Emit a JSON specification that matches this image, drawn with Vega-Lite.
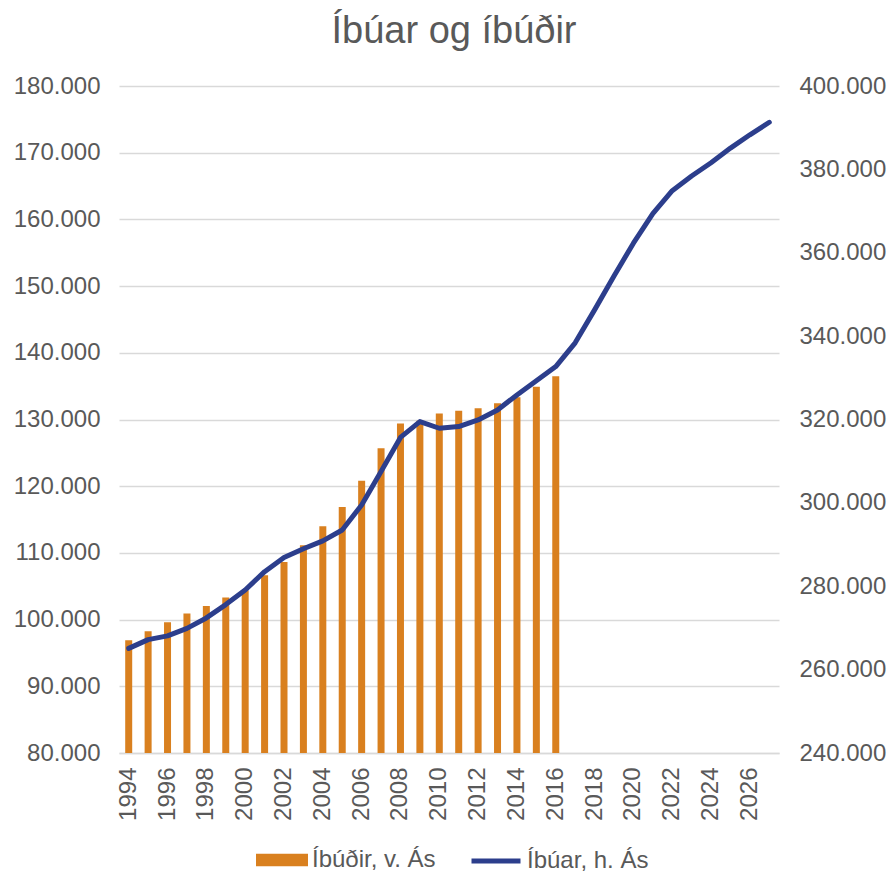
{
  "$schema": "https://vega.github.io/schema/vega-lite/v6.json",
  "autosize": {"type": "none"},
  "width": 660,
  "height": 667,
  "padding": {"left": 119, "top": 86, "right": 110, "bottom": 120},
  "background": "white",
  "title": {"text": "Íbúar og íbúðir", "fontSize": 38, "font": "Liberation Sans", "fontWeight": "normal", "color": "#595959", "anchor": "middle", "frame": "group", "baseline": "alphabetic", "offset": 41, "dx": 5, "dy": 48},
  "config": {"view": {"stroke": null}, "font": "Liberation Sans"},
  "data": {"values": [
    {"year": 1994, "ibudir": 96900, "ibuar": 265100},
    {"year": 1995, "ibudir": 98250, "ibuar": 267200},
    {"year": 1996, "ibudir": 99600, "ibuar": 268100},
    {"year": 1997, "ibudir": 100900, "ibuar": 269900},
    {"year": 1998, "ibudir": 102050, "ibuar": 272400},
    {"year": 1999, "ibudir": 103300, "ibuar": 275600},
    {"year": 2000, "ibudir": 104400, "ibuar": 279100},
    {"year": 2001, "ibudir": 106650, "ibuar": 283500},
    {"year": 2002, "ibudir": 108650, "ibuar": 286900},
    {"year": 2003, "ibudir": 111150, "ibuar": 289000},
    {"year": 2004, "ibudir": 114000, "ibuar": 290900},
    {"year": 2005, "ibudir": 116900, "ibuar": 293500},
    {"year": 2006, "ibudir": 120800, "ibuar": 299500},
    {"year": 2007, "ibudir": 125700, "ibuar": 307500},
    {"year": 2008, "ibudir": 129400, "ibuar": 315700},
    {"year": 2009, "ibudir": 129800, "ibuar": 319500},
    {"year": 2010, "ibudir": 130900, "ibuar": 317900},
    {"year": 2011, "ibudir": 131300, "ibuar": 318300},
    {"year": 2012, "ibudir": 131700, "ibuar": 319900},
    {"year": 2013, "ibudir": 132450, "ibuar": 322300},
    {"year": 2014, "ibudir": 133350, "ibuar": 325900},
    {"year": 2015, "ibudir": 134900, "ibuar": 329300},
    {"year": 2016, "ibudir": 136500, "ibuar": 332700},
    {"year": 2017, "ibudir": null, "ibuar": 338400},
    {"year": 2018, "ibudir": null, "ibuar": 346300},
    {"year": 2019, "ibudir": null, "ibuar": 354400},
    {"year": 2020, "ibudir": null, "ibuar": 362300},
    {"year": 2021, "ibudir": null, "ibuar": 369400},
    {"year": 2022, "ibudir": null, "ibuar": 374900},
    {"year": 2023, "ibudir": null, "ibuar": 378400},
    {"year": 2024, "ibudir": null, "ibuar": 381600},
    {"year": 2025, "ibudir": null, "ibuar": 385100},
    {"year": 2026, "ibudir": null, "ibuar": 388300},
    {"year": 2027, "ibudir": null, "ibuar": 391300}
  ]},
  "encoding": {
    "x": {
      "field": "year",
      "type": "ordinal",
      "scale": {"paddingInner": 0, "paddingOuter": 0},
      "axis": {
        "title": null,
        "labelAngle": -90,
        "labelFontSize": 24,
        "labelColor": "#595959",
        "labelFont": "Liberation Sans",
        "ticks": false,
        "domain": true,
        "domainColor": "#D9D9D9",
        "domainWidth": 1.5,
        "labelPadding": 14,
        "grid": false,
        "values": [1994, 1996, 1998, 2000, 2002, 2004, 2006, 2008, 2010, 2012, 2014, 2016, 2018, 2020, 2022, 2024, 2026]
      }
    }
  },
  "layer": [
    {
      "mark": {"type": "bar", "width": 7, "clip": true},
      "encoding": {
        "y": {
          "field": "ibudir",
          "type": "quantitative",
          "scale": {"domain": [80000, 180000], "zero": false, "nice": false},
          "axis": {
            "title": null,
            "orient": "left",
            "values": [80000, 90000, 100000, 110000, 120000, 130000, 140000, 150000, 160000, 170000, 180000],
            "labelExpr": "replace(format(datum.value, ',.0f'), ',', '.')",
            "labelFontSize": 24,
            "labelColor": "#595959",
            "labelFont": "Liberation Sans",
            "labelPadding": 19,
            "ticks": false,
            "domain": false,
            "grid": true,
            "gridColor": "#D9D9D9",
            "gridWidth": 1.5
          }
        },
        "color": {
          "datum": "Íbúðir, v. Ás",
          "scale": {"range": ["#D9801F"]},
          "legend": {
            "title": null,
            "orient": "none",
            "legendX": 137,
            "legendY": 748,
            "padding": 0,
            "labelFontSize": 24,
            "labelColor": "#595959",
            "labelFont": "Liberation Sans",
            "labelOffset": 4,
            "symbolType": "M-1,-0.24H1V0.24H-1Z",
            "symbolSize": 2704,
            "symbolStrokeWidth": 0
          }
        }
      }
    },
    {
      "mark": {"type": "line", "strokeWidth": 5, "strokeCap": "round", "strokeJoin": "round"},
      "encoding": {
        "y": {
          "field": "ibuar",
          "type": "quantitative",
          "scale": {"domain": [240000, 400000], "zero": false, "nice": false},
          "axis": {
            "title": null,
            "orient": "right",
            "values": [240000, 260000, 280000, 300000, 320000, 340000, 360000, 380000, 400000],
            "labelExpr": "replace(format(datum.value, ',.0f'), ',', '.')",
            "labelFontSize": 24,
            "labelColor": "#595959",
            "labelFont": "Liberation Sans",
            "labelPadding": 20,
            "ticks": false,
            "domain": false,
            "grid": false
          }
        },
        "stroke": {
          "datum": "Íbúar, h. Ás",
          "scale": {"range": ["#2C3E8C"]},
          "legend": {
            "title": null,
            "orient": "none",
            "legendX": 350,
            "legendY": 748,
            "padding": 0,
            "labelFontSize": 24,
            "labelColor": "#595959",
            "labelFont": "Liberation Sans",
            "labelOffset": 4,
            "symbolType": "stroke",
            "symbolSize": 2401,
            "symbolStrokeWidth": 5
          }
        }
      }
    }
  ],
  "resolve": {"scale": {"y": "independent"}}
}
